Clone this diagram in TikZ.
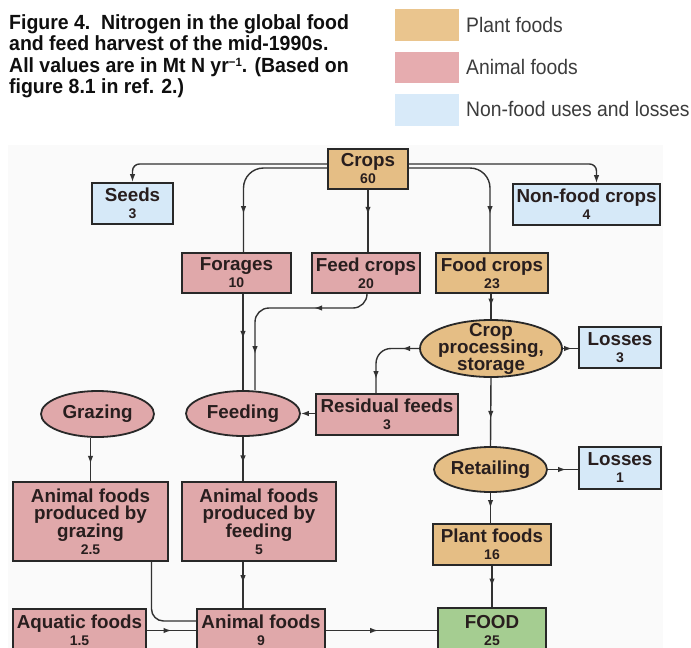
\documentclass[tikz,border=0pt]{standalone}
\usepackage{fontspec}
\setmainfont{Liberation Sans}
\newfontfamily\capfont{Liberation Sans}[FakeStretch=0.95]
\newfontfamily\legfont{Liberation Sans}[FakeStretch=0.92]
\usetikzlibrary{shapes.geometric,arrows.meta,decorations.markings}
\definecolor{plantc}{RGB}{229,190,133}
\definecolor{animalc}{RGB}{224,168,170}
\definecolor{nonfoodc}{RGB}{214,233,248}
\definecolor{foodc}{RGB}{165,205,145}
\definecolor{lgplantc}{RGB}{234,197,142}
\definecolor{lganimalc}{RGB}{230,172,175}
\definecolor{lgnonfoodc}{RGB}{216,234,249}
\definecolor{edgec}{RGB}{40,40,40}
\definecolor{linec}{RGB}{50,50,50}
\definecolor{txtc}{RGB}{40,30,30}
\definecolor{panelc}{RGB}{250,250,250}
\newcommand\nmb[1]{{\fontsize{14}{17}\selectfont #1}}
\newcommand\supm[1]{\raisebox{6pt}{\fontsize{12}{12}\selectfont #1}}
\tikzset{
  box/.style={rectangle, draw=edgec, line width=1.8pt, inner sep=0pt, align=center, text=txtc,
    font={\lineskiplimit=-30pt\bfseries\fontsize{18.8}{17}\selectfont}},
  ell/.style={ellipse, draw=edgec, line width=1.8pt, inner xsep=-30pt, inner ysep=-30pt, align=center, text=txtc,
    font={\lineskiplimit=-30pt\bfseries\fontsize{18.8}{17}\selectfont}},
  conn/.style={draw=linec, line width=1.4pt},
  endtip/.style={-{Latex[length=8pt,width=5.5pt]}},
  tipat/.style={postaction={decorate, decoration={markings, mark=at position #1 with {\arrow{Latex[length=8pt,width=5.5pt]}}}}},
  swatch/.style={rectangle, inner sep=0pt, minimum width=64pt},
  legtext/.style={anchor=base west, inner sep=0pt, text={rgb,255:red,60;green,60;blue,60}, font={\legfont\fontsize{21}{21}\selectfont}},
  captext/.style={anchor=base west, inner sep=0pt, text={rgb,255:red,15;green,15;blue,15}, font={\capfont\bfseries\fontsize{20.5}{21}\selectfont}},
}
\begin{document}
\begin{tikzpicture}[x=1pt,y=-1pt]
\useasboundingbox (0,0) rectangle (691,648);
\clip (0,0) rectangle (691,648);
\fill[white] (0,0) rectangle (691,648);
\fill[panelc] (8,145) rectangle (663,660);

% caption
\node[captext] (cap1) at (9,29) {Figure 4.\ \ Nitrogen in the global food};
\node[captext] (cap2) at (9,50.5) {and feed harvest of the mid-1990s.};
\node[captext] (cap3) at (9,72) {All values are in Mt N yr\supm{−1}. (Based on};
\node[captext] (cap4) at (9,93.5) {figure 8.1 in ref. 2.)};

% legend
\node[swatch, fill=lgplantc, minimum height=32pt] (lgplant) at (427,25) {};
\node[swatch, fill=lganimalc, minimum height=31pt] (lganimal) at (427,67.5) {};
\node[swatch, fill=lgnonfoodc, minimum height=32pt] (lgnonfood) at (427,110) {};
\node[legtext] (lgplanttxt) at (466,32) {Plant foods};
\node[legtext] (lganimaltxt) at (466,74) {Animal foods};
\node[legtext] (lgnonfoodtxt) at (466,116) {Non-food uses and losses};

% nodes
\node[box, fill=plantc, minimum width=80pt, minimum height=40pt] (crops) at (368,169) {Crops\\\nmb{60}};
\node[box, fill=nonfoodc, minimum width=81pt, minimum height=41pt] (seeds) at (132.5,203.5) {Seeds\\\nmb{3}};
\node[box, fill=nonfoodc, minimum width=147pt, minimum height=41pt] (nonfood) at (586.5,204.5) {Non-food crops\\\nmb{4}};
\node[box, fill=animalc, minimum width=109pt, minimum height=40pt] (forages) at (236.5,273) {Forages\\\nmb{10}};
\node[box, fill=animalc, minimum width=108pt, minimum height=40pt] (feedcrops) at (366,273) {Feed crops\\\nmb{20}};
\node[box, fill=plantc, minimum width=112pt, minimum height=40pt] (foodcrops) at (492,273) {Food crops\\\nmb{23}};
\node[ell, fill=plantc, minimum width=142pt, minimum height=57pt] (cropproc) at (491,348.5) {Crop\\processing,\\storage};
\node[box, fill=nonfoodc, minimum width=82pt, minimum height=41pt] (loss3) at (620,347.5) {Losses\\\nmb{3}};
\node[box, fill=animalc, minimum width=142pt, minimum height=41pt] (resid) at (387,414.5) {Residual feeds\\\nmb{3}};
\node[ell, fill=animalc, minimum width=114pt, minimum height=45pt] (feeding) at (243,413.5) {Feeding};
\node[ell, fill=animalc, minimum width=113pt, minimum height=46pt] (grazing) at (97.5,414) {Grazing};
\node[box, fill=animalc, minimum width=155pt, minimum height=79pt, font={\lineskiplimit=-30pt\bfseries\fontsize{18.8}{17.5}\selectfont}] (afgraz) at (90.5,521.5) {Animal foods\\produced by\\grazing\\\nmb{2.5}};
\node[box, fill=animalc, minimum width=154pt, minimum height=79pt, font={\lineskiplimit=-30pt\bfseries\fontsize{18.8}{17.5}\selectfont}] (affeed) at (259,521.5) {Animal foods\\produced by\\feeding\\\nmb{5}};
\node[ell, fill=plantc, minimum width=113pt, minimum height=45pt] (retail) at (490.5,469.5) {Retailing};
\node[box, fill=nonfoodc, minimum width=82pt, minimum height=42pt] (loss1) at (620,468) {Losses\\\nmb{1}};
\node[box, fill=plantc, minimum width=118pt, minimum height=41pt] (plantfoods) at (492,544.5) {Plant foods\\\nmb{16}};
\node[box, fill=animalc, minimum width=133pt, minimum height=43pt] (aquatic) at (79.5,630.5) {Aquatic foods\\\nmb{1.5}};
\node[box, fill=animalc, minimum width=128pt, minimum height=43pt] (animalfoods) at (261,630.5) {Animal foods\\\nmb{9}};
\node[box, fill=foodc, minimum width=108pt, minimum height=44pt] (food) at (492,630) {FOOD\\\nmb{25}};

% helper coordinates
\coordinate (fcbend) at (255,308);
\coordinate (gzs) at ([xshift=-7pt]grazing.south);
\coordinate (agb) at ([xshift=61pt]afgraz.south);

% connectors
\draw[conn, endtip, rounded corners=7pt] ([yshift=5pt]crops.west) -| (seeds.north);
\draw[conn, endtip, rounded corners=7pt] ([yshift=5pt]crops.east) -| ([xshift=10pt]nonfood.north);
\draw[conn, rounded corners=20pt, tipat=-38pt] ([yshift=1pt]crops.west) -| ([xshift=7pt]forages.north);
\draw[conn, rounded corners=20pt, tipat=-38pt] ([yshift=1pt]crops.east) -| ([xshift=-2pt]foodcrops.north);
\draw[conn, tipat=0.4] (crops.south) -- (crops.south |- feedcrops.north);
\draw[conn, tipat=0.5] (foodcrops.south -| cropproc.north) -- (cropproc.north);
\draw[conn, tipat=0.6] (cropproc.east) -- (cropproc.east -| loss3.west);
\draw[conn, rounded corners=15pt, tipat=17pt, tipat=-14pt] (cropproc.west) -| ([xshift=-11pt]resid.north);
\draw[conn, endtip] (resid.west |- feeding.east) -- (feeding.east);
\draw[conn, tipat=45pt] (forages.south -| feeding.north) -- (feeding.north);
\draw[conn, rounded corners=14pt, tipat=61pt, tipat=-36pt] ([xshift=1pt]feedcrops.south) |- (fcbend) -- ([xshift=12pt]feeding.north);
\draw[conn, tipat=0.6] (feeding.south) -- (feeding.south |- affeed.north);
\draw[conn, tipat=0.6] (gzs) -- (gzs |- afgraz.north);
\draw[conn, rounded corners=12pt] (agb) |- ([yshift=9.5pt]animalfoods.west);
\draw[conn, tipat=0.5] (aquatic.east) -- (animalfoods.west |- aquatic.east);
\draw[conn, tipat=0.46] (affeed.south -| feeding.south) -- (feeding.south |- animalfoods.north);
\draw[conn, tipat=0.47] (animalfoods.east) -- (food.west |- animalfoods.east);
\draw[conn, tipat=0.6] (cropproc.south) -- (retail.north);
\draw[conn, tipat=0.6] (retail.east) -- (retail.east -| loss1.west);
\draw[conn, tipat=0.5] (retail.south) -- (retail.south |- plantfoods.north);
\draw[conn, tipat=0.5] (plantfoods.south) -- (plantfoods.south |- food.north);
\end{tikzpicture}
\end{document}
